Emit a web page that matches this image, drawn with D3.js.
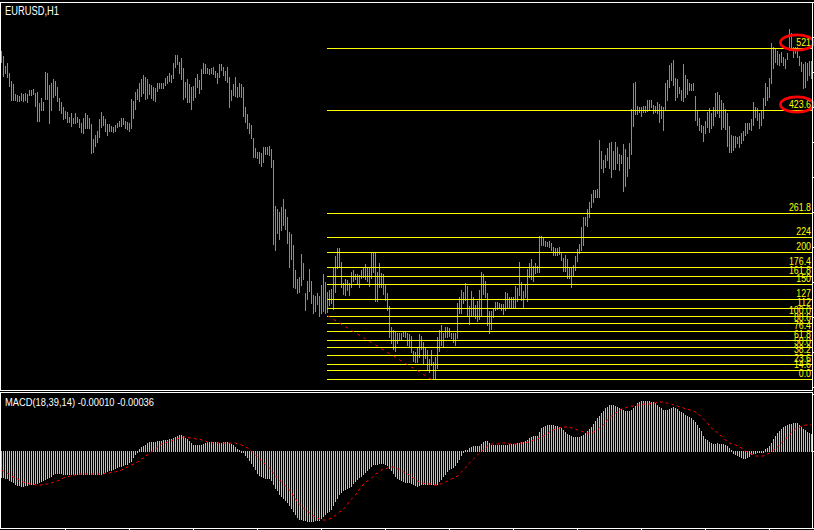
<!DOCTYPE html>
<html><head><meta charset="utf-8">
<script src="https://cdn.jsdelivr.net/npm/d3@7/dist/d3.min.js"></script>
<style>html,body{margin:0;padding:0;background:#000;overflow:hidden}svg{display:block}</style>
</head><body><svg id="c" width="814" height="530"></svg>
<script>
const chartTitle = "EURUSD,H1";
const macdTitle = "MACD(18,39,14) -0.00010 -0.00036";

const priceHigh = [
1.3349,1.3344,1.3334,1.3337,1.3327,1.3319,1.3316,1.3306,1.3305,1.3304,
1.3307,1.3306,1.3307,1.3306,1.3310,1.3310,1.3311,1.3307,1.3308,1.3297,
1.3302,1.3298,1.3328,1.3327,1.3315,1.3317,1.3321,1.3319,1.3313,1.3302,
1.3298,1.3293,1.3289,1.3288,1.3283,1.3287,1.3282,1.3287,1.3283,1.3281,
1.3277,1.3282,1.3287,1.3285,1.3282,1.3276,1.3261,1.3265,1.3269,1.3281,
1.3288,1.3284,1.3281,1.3276,1.3276,1.3274,1.3273,1.3275,1.3277,1.3279,
1.3282,1.3282,1.3279,1.3278,1.3277,1.3301,1.3299,1.3308,1.3311,1.3317,
1.3321,1.3325,1.3323,1.3321,1.3316,1.3315,1.3313,1.3312,1.3317,1.3317,
1.3317,1.3317,1.3322,1.3324,1.3327,1.3325,1.3337,1.3345,1.3345,1.3338,
1.3342,1.3332,1.3318,1.3321,1.3316,1.3313,1.3314,1.3322,1.3326,1.3320,
1.3331,1.3337,1.3336,1.3332,1.3331,1.3332,1.3333,1.3329,1.3327,1.3336,
1.3336,1.3333,1.3329,1.3333,1.3323,1.3310,1.3316,1.3323,1.3313,1.3317,
1.3316,1.3313,1.3293,1.3286,1.3277,1.3275,1.3262,1.3252,1.3248,1.3248,
1.3247,1.3253,1.3253,1.3253,1.3254,1.3251,1.3240,1.3194,1.3191,1.3188,
1.3193,1.3201,1.3191,1.3183,1.3168,1.3166,1.3155,1.3130,1.3121,1.3123,
1.3146,1.3137,1.3107,1.3119,1.3131,1.3119,1.3105,1.3104,1.3107,1.3104,
1.3115,1.3126,1.3118,1.3108,1.3110,1.3111,1.3132,1.3144,1.3152,1.3152,
1.3138,1.3117,1.3121,1.3120,1.3117,1.3128,1.3130,1.3126,1.3126,1.3125,
1.3130,1.3132,1.3136,1.3133,1.3133,1.3147,1.3147,1.3147,1.3128,1.3137,
1.3127,1.3126,1.3115,1.3107,1.3094,1.3073,1.3070,1.3068,1.3067,1.3067,
1.3067,1.3069,1.3069,1.3067,1.3066,1.3064,1.3049,1.3048,1.3052,1.3066,
1.3064,1.3058,1.3052,1.3050,1.3041,1.3050,1.3038,1.3043,1.3063,1.3070,
1.3075,1.3067,1.3073,1.3073,1.3072,1.3067,1.3067,1.3067,1.3097,1.3103,
1.3110,1.3108,1.3117,1.3114,1.3094,1.3109,1.3103,1.3095,1.3099,1.3110,
1.3128,1.3126,1.3119,1.3107,1.3089,1.3089,1.3091,1.3098,1.3098,1.3097,
1.3096,1.3096,1.3108,1.3107,1.3103,1.3103,1.3103,1.3114,1.3112,1.3138,
1.3118,1.3109,1.3115,1.3131,1.3137,1.3141,1.3134,1.3137,1.3134,1.3164,
1.3164,1.3162,1.3159,1.3158,1.3159,1.3157,1.3153,1.3152,1.3152,1.3153,
1.3147,1.3142,1.3145,1.3141,1.3132,1.3133,1.3135,1.3144,1.3151,1.3156,
1.3173,1.3183,1.3183,1.3191,1.3198,1.3206,1.3210,1.3210,1.3211,1.3260,
1.3249,1.3240,1.3245,1.3252,1.3257,1.3258,1.3249,1.3258,1.3253,1.3246,
1.3245,1.3256,1.3251,1.3243,1.3257,1.3291,1.3317,1.3318,1.3294,1.3293,
1.3293,1.3294,1.3294,1.3300,1.3300,1.3300,1.3295,1.3294,1.3298,1.3296,
1.3294,1.3293,1.3317,1.3320,1.3335,1.3337,1.3340,1.3322,1.3321,1.3313,
1.3310,1.3336,1.3325,1.3321,1.3317,1.3316,1.3317,1.3304,1.3289,1.3282,
1.3275,1.3274,1.3279,1.3288,1.3292,1.3287,1.3293,1.3307,1.3308,1.3305,
1.3300,1.3297,1.3291,1.3287,1.3274,1.3265,1.3264,1.3264,1.3263,1.3264,
1.3267,1.3269,1.3277,1.3277,1.3277,1.3281,1.3298,1.3293,1.3292,1.3287,
1.3290,1.3302,1.3317,1.3313,1.3322,1.3357,1.3353,1.3352,1.3349,1.3346,
1.3348,1.3343,1.3341,1.3347,1.3371,1.3367,1.3353,1.3353,1.3353,1.3344,
1.3338,1.3336,1.3338,1.3337,1.3339,1.3339];

const priceLow = [
1.3338,1.3324,1.3327,1.3323,1.3314,1.3300,1.3300,1.3300,1.3299,1.3299,
1.3300,1.3299,1.3300,1.3298,1.3305,1.3305,1.3306,1.3294,1.3279,1.3279,
1.3290,1.3290,1.3301,1.3301,1.3277,1.3290,1.3303,1.3305,1.3299,1.3290,
1.3287,1.3281,1.3282,1.3278,1.3278,1.3274,1.3277,1.3277,1.3278,1.3273,
1.3268,1.3267,1.3272,1.3272,1.3272,1.3247,1.3248,1.3254,1.3258,1.3263,
1.3273,1.3275,1.3269,1.3265,1.3269,1.3269,1.3268,1.3269,1.3273,1.3274,
1.3274,1.3276,1.3272,1.3271,1.3269,1.3272,1.3282,1.3291,1.3301,1.3299,
1.3304,1.3307,1.3301,1.3302,1.3306,1.3302,1.3300,1.3299,1.3309,1.3312,
1.3312,1.3312,1.3315,1.3317,1.3319,1.3318,1.3322,1.3333,1.3336,1.3327,
1.3321,1.3301,1.3303,1.3298,1.3298,1.3291,1.3300,1.3303,1.3313,1.3307,
1.3311,1.3327,1.3327,1.3327,1.3326,1.3327,1.3326,1.3323,1.3317,1.3323,
1.3330,1.3325,1.3320,1.3318,1.3293,1.3300,1.3305,1.3304,1.3303,1.3304,
1.3303,1.3284,1.3278,1.3272,1.3267,1.3262,1.3243,1.3243,1.3242,1.3237,
1.3234,1.3238,1.3246,1.3246,1.3245,1.3233,1.3156,1.3150,1.3167,1.3161,
1.3170,1.3175,1.3171,1.3157,1.3133,1.3141,1.3113,1.3112,1.3107,1.3108,
1.3115,1.3121,1.3090,1.3101,1.3109,1.3097,1.3087,1.3089,1.3096,1.3084,
1.3087,1.3089,1.3087,1.3088,1.3095,1.3097,1.3091,1.3108,1.3132,1.3134,
1.3113,1.3106,1.3105,1.3110,1.3105,1.3113,1.3119,1.3121,1.3117,1.3113,
1.3122,1.3123,1.3121,1.3119,1.3114,1.3122,1.3128,1.3099,1.3099,1.3113,
1.3113,1.3106,1.3100,1.3090,1.3063,1.3057,1.3051,1.3049,1.3057,1.3060,
1.3060,1.3064,1.3063,1.3055,1.3054,1.3048,1.3039,1.3038,1.3038,1.3043,
1.3051,1.3036,1.3042,1.3030,1.3028,1.3035,1.3021,1.3021,1.3032,1.3049,
1.3055,1.3053,1.3063,1.3063,1.3064,1.3062,1.3058,1.3055,1.3062,1.3087,
1.3087,1.3097,1.3100,1.3085,1.3076,1.3085,1.3084,1.3082,1.3079,1.3081,
1.3085,1.3106,1.3103,1.3075,1.3067,1.3071,1.3083,1.3090,1.3091,1.3093,
1.3090,1.3086,1.3090,1.3093,1.3093,1.3093,1.3093,1.3093,1.3099,1.3105,
1.3100,1.3093,1.3103,1.3099,1.3123,1.3121,1.3119,1.3127,1.3128,1.3128,
1.3155,1.3155,1.3154,1.3154,1.3153,1.3150,1.3145,1.3145,1.3145,1.3146,
1.3140,1.3129,1.3129,1.3122,1.3122,1.3113,1.3124,1.3130,1.3139,1.3147,
1.3150,1.3155,1.3175,1.3174,1.3183,1.3193,1.3198,1.3203,1.3203,1.3203,
1.3232,1.3228,1.3233,1.3240,1.3232,1.3223,1.3231,1.3231,1.3237,1.3230,
1.3237,1.3209,1.3214,1.3224,1.3232,1.3246,1.3274,1.3286,1.3286,1.3288,
1.3284,1.3288,1.3288,1.3289,1.3290,1.3293,1.3287,1.3288,1.3287,1.3278,
1.3282,1.3270,1.3291,1.3300,1.3313,1.3320,1.3315,1.3300,1.3303,1.3307,
1.3300,1.3299,1.3303,1.3306,1.3310,1.3310,1.3310,1.3280,1.3275,1.3270,
1.3268,1.3259,1.3267,1.3273,1.3268,1.3272,1.3275,1.3284,1.3287,1.3283,
1.3271,1.3273,1.3271,1.3254,1.3248,1.3248,1.3250,1.3253,1.3257,1.3253,
1.3257,1.3260,1.3265,1.3267,1.3271,1.3270,1.3275,1.3283,1.3280,1.3272,
1.3275,1.3282,1.3295,1.3300,1.3303,1.3317,1.3332,1.3338,1.3336,1.3335,
1.3338,1.3335,1.3332,1.3341,1.3350,1.3350,1.3343,1.3347,1.3343,1.3335,
1.3329,1.3312,1.3313,1.3320,1.3325,1.3322];

// MACD values in points (1 point = 0.00001)
const macdMain = [
-26,-26,-27,-27,-29,-30,-31,-33,-34,-34,
-35,-35,-34,-34,-33,-33,-33,-32,-32,-31,
-30,-29,-28,-27,-26,-25,-23,-22,-22,-22,
-22,-23,-23,-23,-23,-23,-23,-23,-23,-23,
-23,-23,-23,-23,-23,-23,-23,-23,-23,-23,
-23,-22,-21,-20,-19,-19,-18,-17,-16,-15,
-15,-14,-13,-13,-11,-10,-6,-3,-1,2,
4,5,6,8,9,9,9,9,10,10,
10,11,11,11,12,12,13,14,15,16,
16,15,13,12,10,8,6,6,6,6,
6,7,8,9,9,9,9,9,9,8,
8,9,9,9,8,7,6,4,2,1,
-1,-1,-4,-6,-9,-12,-15,-18,-22,-24,
-25,-26,-27,-27,-27,-29,-33,-37,-39,-43,
-45,-47,-49,-51,-54,-57,-60,-63,-66,-68,
-68,-69,-69,-70,-70,-70,-70,-69,-69,-69,
-67,-65,-63,-61,-60,-58,-54,-50,-47,-43,
-41,-39,-38,-37,-36,-35,-32,-30,-28,-26,
-25,-23,-21,-19,-17,-15,-13,-13,-13,-12,
-12,-12,-13,-14,-17,-19,-22,-25,-27,-28,
-29,-30,-31,-31,-31,-32,-33,-34,-35,-34,
-33,-33,-33,-33,-33,-33,-33,-33,-33,-30,
-28,-25,-23,-20,-18,-17,-16,-14,-11,-8,
-4,-1,1,1,3,4,5,5,5,5,
7,9,10,10,8,6,6,6,6,6,
6,6,6,6,7,7,7,7,8,8,
9,9,10,11,13,14,15,15,15,19,
23,24,25,26,26,26,26,25,25,24,
23,21,19,17,16,15,14,14,14,14,
15,16,18,20,22,24,27,30,33,35,
38,40,43,44,46,46,46,45,44,43,
42,41,40,40,40,41,43,45,48,49,
50,50,50,50,50,49,49,48,46,44,
43,41,41,41,42,43,44,43,42,40,
39,38,36,35,34,33,31,29,26,23,
20,15,12,11,9,8,7,7,8,7,
7,7,6,5,3,1,-2,-3,-4,-5,
-6,-7,-7,-6,-5,-3,-2,-2,-1,-1,
-1,-1,2,3,5,8,12,15,18,20,
22,24,25,26,27,27,28,28,28,26,
24,22,21,19,18,17];

const macdSignal = [
-19,-20,-21,-22,-24,-25,-26,-27,-28,-29,
-30,-31,-32,-32,-33,-33,-33,-34,-34,-34,
-34,-33,-33,-33,-32,-32,-31,-30,-30,-29,
-28,-27,-26,-26,-25,-25,-24,-24,-24,-23,
-23,-23,-23,-23,-23,-23,-23,-23,-23,-23,
-23,-23,-22,-22,-22,-21,-21,-21,-20,-20,
-19,-18,-17,-16,-15,-14,-13,-12,-11,-10,
-8,-7,-5,-4,-2,-1,1,2,4,5,
7,8,8,9,10,10,11,12,12,13,
13,14,14,14,13,13,13,12,12,12,
11,11,10,9,9,9,8,8,8,8,
8,8,8,8,8,8,8,8,7,7,
6,5,4,3,2,0,-2,-4,-6,-8,
-10,-12,-13,-15,-17,-20,-22,-25,-27,-29,
-31,-33,-35,-37,-39,-41,-45,-48,-51,-53,
-55,-57,-59,-60,-62,-63,-65,-66,-67,-68,
-69,-69,-69,-68,-68,-67,-66,-64,-63,-61,
-60,-58,-56,-53,-50,-48,-46,-44,-41,-38,
-36,-33,-31,-30,-28,-27,-25,-23,-22,-21,
-19,-18,-18,-17,-16,-16,-16,-17,-18,-18,
-19,-21,-22,-23,-24,-26,-27,-29,-30,-31,
-32,-32,-33,-33,-33,-33,-34,-34,-34,-33,
-33,-32,-31,-30,-29,-28,-27,-26,-25,-23,
-21,-19,-17,-14,-12,-10,-8,-6,-4,-2,
0,1,3,5,6,7,7,7,7,7,
8,8,8,8,7,7,7,7,7,8,
8,8,8,9,9,10,11,11,12,13,
14,15,16,17,19,20,21,22,22,23,
24,24,24,24,24,23,23,22,21,20,
20,19,18,18,18,18,19,20,21,23,
24,26,28,31,33,35,36,38,39,41,
42,43,43,44,44,45,45,45,46,46,
46,47,47,47,47,48,48,48,49,49,
49,49,48,48,47,47,46,46,45,44,
44,43,42,42,41,41,40,39,37,36,
34,32,30,28,25,23,21,20,18,16,
15,13,11,9,8,7,7,6,5,4,
3,1,0,-1,-2,-3,-4,-5,-5,-5,
-5,-5,-4,-3,-2,-1,1,2,4,6,
8,10,12,14,16,18,20,22,23,24,
25,25,26,26,26,26];

const fibLevels = [0, 14.6, 23.6, 38.2, 50, 61.8, 76.4, 88.6, 100, 112, 127, 150, 161.8, 176.4, 200, 224, 261.8, 423.6, 521];
const fibLabels = ["0.0","14.6","23.6","38.2","50.0","61.8","76.4","88.6","100.0","112","127","150","161.8","176.4","200","224","261.8","423.6","521"];
const fibStartBar = 163, fibStartPrice = 1.30843;
const fibEndBar = 215, fibEndPrice = 1.30207;
const circledLevels = [521, 423.6];

const priceTicks = [1.3013,1.3048,1.3083,1.3118,1.3153,1.3188,1.3223,1.3258,1.3293,1.3328,1.3363,1.3398];
const macdTicks = [57, 0, -77];
const timeTicks = [32,64,96,128,160,192,224,256,288,320,352,384];

// ---------- drawing ----------
const W = 814, H = 530;
const svg = d3.select("#c");
svg.append("rect").attr("width", W).attr("height", H).attr("fill", "#000");

const n = priceHigh.length;
const xs = d3.scaleLinear().domain([0, n - 1]).range([1.5, 811.5]);
const ys = d3.scaleLinear().domain([1.3010, 1.3398]).range([390, 2]);
const ym = d3.scaleLinear().domain([-77, 57]).range([528, 394]);

const WHITE = "#ffffff", BAR = "#32cd32", FIB = "#ffff00", HIST = "#c0c0c0", RED = "#ff0000";
const font = "'Liberation Sans', Arial, sans-serif";

// price bars
const gBars = svg.append("g").attr("shape-rendering", "crispEdges");
gBars.selectAll("rect").data(d3.range(n)).join("rect")
  .attr("x", i => Math.round(xs(i) - 0.5))
  .attr("width", 1)
  .attr("y", i => Math.round(ys(priceHigh[i])))
  .attr("height", i => Math.round(ys(priceLow[i])) - Math.round(ys(priceHigh[i])) + 1)
  .attr("fill", BAR);

// fibonacci levels
const fibPrice = l => fibEndPrice + (fibStartPrice - fibEndPrice) * l / 100;
const fibX0 = xs(fibStartBar) - 0.5;
const gFib = svg.append("g");
fibLevels.forEach((l, k) => {
  const y = Math.round(ys(fibPrice(l))) + 0.5;
  gFib.append("line").attr("x1", fibX0).attr("x2", 812).attr("y1", y).attr("y2", y)
    .attr("stroke", FIB).attr("stroke-width", 1).attr("shape-rendering", "crispEdges");
  gFib.append("text").attr("transform", `translate(811,${y - 2.5}) scale(0.8,1)`)
    .attr("text-anchor", "end").attr("font-family", font).attr("font-size", 11)
    .attr("fill", FIB).text(fibLabels[k]);
});
// fib trend line
svg.append("line")
  .attr("x1", xs(fibStartBar)).attr("y1", ys(fibStartPrice))
  .attr("x2", xs(fibEndBar)).attr("y2", ys(fibEndPrice))
  .attr("stroke", RED).attr("stroke-width", 1).attr("stroke-dasharray", "3,4");

// circled labels
circledLevels.forEach(l => {
  const y = Math.round(ys(fibPrice(l))) + 0.5;
  svg.append("ellipse").attr("cx", 797).attr("cy", y - 6).attr("rx", 16.5).attr("ry", 7.7)
    .attr("fill", "none").attr("stroke", RED).attr("stroke-width", 2.7);
});

// MACD histogram
const y0 = Math.round(ym(0));
const gHist = svg.append("g").attr("shape-rendering", "crispEdges");
gHist.selectAll("rect").data(d3.range(n)).join("rect")
  .attr("x", i => Math.round(xs(i) - 0.5))
  .attr("width", 1)
  .attr("y", i => macdMain[i] >= 0 ? Math.round(ym(macdMain[i])) : y0)
  .attr("height", i => Math.abs(Math.round(ym(macdMain[i])) - y0) + 1)
  .attr("fill", HIST);

// signal line
svg.append("path").datum(macdSignal)
  .attr("d", d3.line().x((d, i) => xs(i)).y(d => ym(d)))
  .attr("fill", "none").attr("stroke", RED).attr("stroke-width", 1).attr("stroke-dasharray", "3,3");

// frames
const gFrame = svg.append("g").attr("stroke", WHITE).attr("stroke-width", 1).attr("shape-rendering", "crispEdges");
[[0, 2.5, 813, 2.5], [0.5, 2, 0.5, 391], [0, 390.5, 813, 390.5],
 [0, 392.5, 813, 392.5], [0.5, 392, 0.5, 529], [0, 528.5, 813, 528.5], [812.5, 392, 812.5, 529]]
  .forEach(s => gFrame.append("line").attr("x1", s[0]).attr("y1", s[1]).attr("x2", s[2]).attr("y2", s[3]));

// axes (their labels fall outside the visible window in the reference, so only the ticks are drawn)
const styleAxis = g => {
  g.selectAll("line,path").attr("stroke", WHITE).attr("shape-rendering", "crispEdges");
};
svg.append("g").attr("transform", "translate(812,0)")
  .call(d3.axisRight(ys).tickValues(priceTicks).tickSize(4).tickSizeOuter(0).tickFormat(""))
  .call(styleAxis);
svg.append("g").attr("transform", "translate(812,0)")
  .call(d3.axisRight(ym).tickValues(macdTicks).tickSize(4).tickSizeOuter(0).tickFormat(""))
  .call(styleAxis).call(g => g.select(".domain").remove());
svg.append("g").attr("transform", "translate(0,528)")
  .call(d3.axisBottom(xs).tickValues(timeTicks).tickSize(3).tickSizeOuter(0).offset(0).tickFormat(""))
  .call(styleAxis).call(g => g.select(".domain").remove());

// titles
svg.append("text").attr("x", 5).attr("y", 15).attr("font-family", font).attr("font-size", 12)
  .attr("textLength", 54).attr("lengthAdjust", "spacingAndGlyphs").attr("fill", WHITE).text(chartTitle);
svg.append("text").attr("x", 5).attr("y", 405.5).attr("font-family", font).attr("font-size", 11)
  .attr("textLength", 149).attr("lengthAdjust", "spacingAndGlyphs").attr("fill", WHITE).text(macdTitle);
</script>
</body></html>
